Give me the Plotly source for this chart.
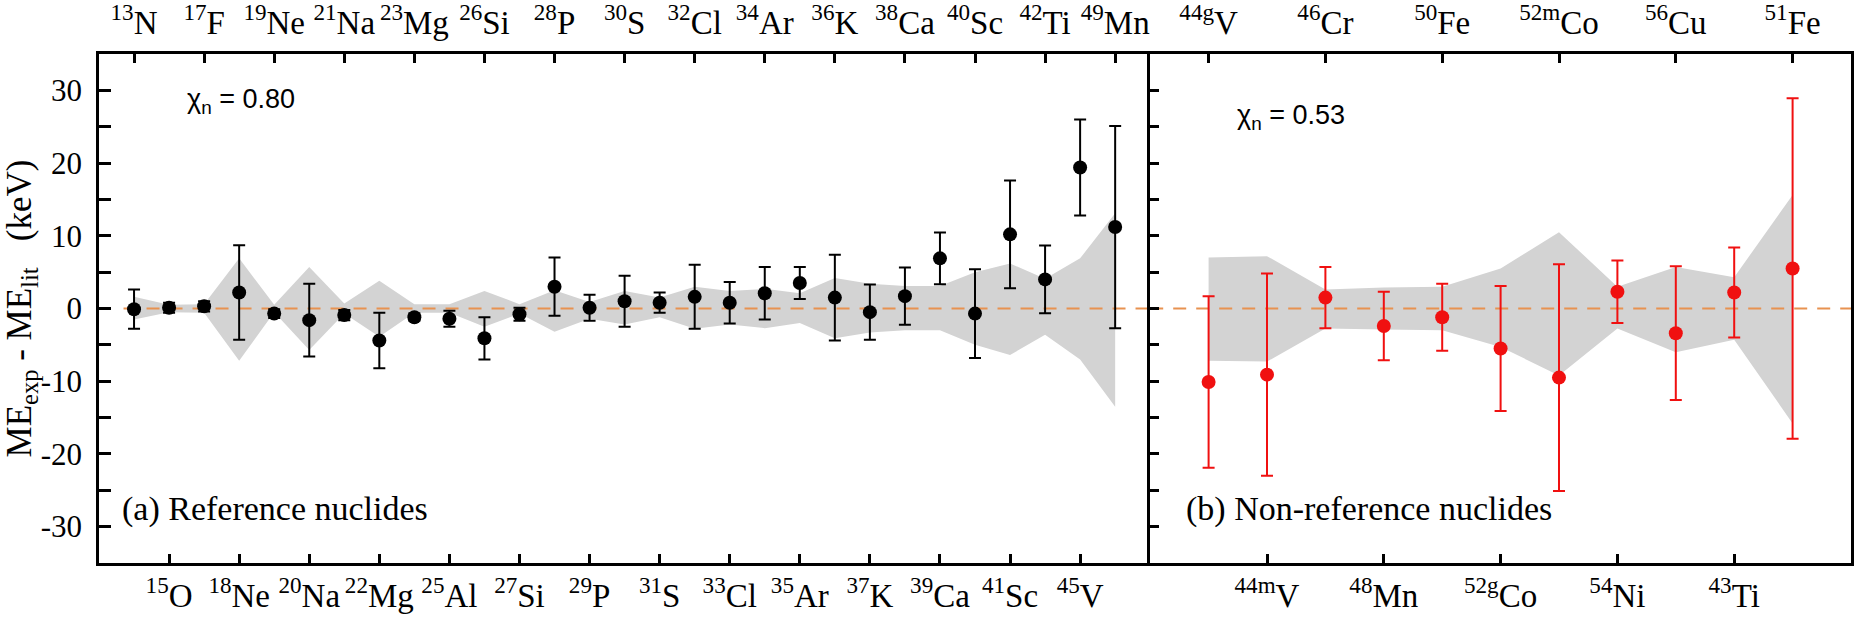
import plotly.graph_objects as go

# ---------------- data ----------------
ref_labels = ["<sup>13</sup>N", "<sup>15</sup>O", "<sup>17</sup>F", "<sup>18</sup>Ne", "<sup>19</sup>Ne",
              "<sup>20</sup>Na", "<sup>21</sup>Na", "<sup>22</sup>Mg", "<sup>23</sup>Mg", "<sup>25</sup>Al",
              "<sup>26</sup>Si", "<sup>27</sup>Si", "<sup>28</sup>P", "<sup>29</sup>P", "<sup>30</sup>S",
              "<sup>31</sup>S", "<sup>32</sup>Cl", "<sup>33</sup>Cl", "<sup>34</sup>Ar", "<sup>35</sup>Ar",
              "<sup>36</sup>K", "<sup>37</sup>K", "<sup>38</sup>Ca", "<sup>39</sup>Ca", "<sup>40</sup>Sc",
              "<sup>41</sup>Sc", "<sup>42</sup>Ti", "<sup>45</sup>V", "<sup>49</sup>Mn"]
ref_values = [-0.1, 0.1, 0.3, 2.2, -0.7, -1.6, -0.9, -4.4, -1.2, -1.4, -4.1, -0.8, 3.0, 0.1, 1.0,
              0.8, 1.6, 0.8, 2.1, 3.5, 1.5, -0.5, 1.7, 6.9, -0.7, 10.2, 4.0, 19.4, 11.2]
ref_errors = [2.7, 0.7, 0.7, 6.5, 0.6, 5.0, 0.7, 3.8, 0.5, 1.1, 2.9, 0.9, 4.0, 1.8, 3.5,
              1.4, 4.4, 2.85, 3.6, 2.2, 5.9, 3.8, 3.95, 3.55, 6.1, 7.4, 4.65, 6.6, 13.9]
ref_band_upper = [1.6, 0.5, 0.6, 6.9, 0.5, 5.7, 0.7, 3.8, 0.6, 0.6, 2.4, 0.6, 2.5, 0.9, 2.4,
                  1.5, 3.0, 2.4, 2.7, 2.1, 4.2, 3.4, 3.1, 3.1, 5.0, 6.2, 4.1, 6.9, 13.1]
ref_band_lower = [-1.5, -0.5, -0.6, -7.2, -0.5, -5.7, -0.7, -3.9, -0.6, -0.6, -2.5, -0.7, -3.2, -1.4, -2.2,
                  -1.2, -2.8, -2.2, -2.7, -2.0, -4.1, -3.3, -3.0, -3.0, -5.0, -6.4, -3.6, -7.0, -13.5]

non_labels = ["<sup>44g</sup>V", "<sup>44m</sup>V", "<sup>46</sup>Cr", "<sup>48</sup>Mn", "<sup>50</sup>Fe",
              "<sup>52g</sup>Co", "<sup>52m</sup>Co", "<sup>54</sup>Ni", "<sup>56</sup>Cu", "<sup>43</sup>Ti",
              "<sup>51</sup>Fe"]
non_values = [-10.1, -9.1, 1.5, -2.4, -1.2, -5.5, -9.5, 2.3, -3.4, 2.2, 5.5]
non_errors = [11.8, 13.9, 4.2, 4.7, 4.6, 8.6, 15.6, 4.3, 9.2, 6.2, 23.4]
non_band_upper = [7.0, 7.2, 2.6, 2.9, 3.0, 5.5, 10.5, 3.0, 5.7, 4.3, 15.6]
non_band_lower = [-7.2, -7.3, -2.75, -2.9, -3.0, -5.3, -9.2, -2.75, -6.0, -4.3, -15.8]

chi_ref = "0.80"
chi_non = "0.53"

y_tick_vals = [-30, -20, -10, 0, 10, 20, 30]
y_tick_text = ["-30", "-20", "-10", "0", "10", "20", "30"]

# ---------------- styling ----------------
SERIF = "Liberation Serif"
SANS = "Liberation Sans"
BAND = "#D3D3D3"
ZERO = "rgb(232,146,80)"
Y_RANGE = [-35, 35]

ref_x = list(range(1, len(ref_values) + 1))
non_x = list(range(1, len(non_values) + 1))
L_RANGE = [0, len(ref_values) + 1]
R_RANGE = [0, len(non_values) + 1]

fig = go.Figure()

# uncertainty bands
fig.add_trace(go.Scatter(x=ref_x + ref_x[::-1], y=ref_band_upper + ref_band_lower[::-1],
                         fill="toself", fillcolor=BAND, line=dict(width=0), mode="lines",
                         xaxis="x", yaxis="y", hoverinfo="skip"))
fig.add_trace(go.Scatter(x=non_x + non_x[::-1], y=non_band_upper + non_band_lower[::-1],
                         fill="toself", fillcolor=BAND, line=dict(width=0), mode="lines",
                         xaxis="x2", yaxis="y2", hoverinfo="skip"))

# zero lines
fig.add_trace(go.Scatter(x=[L_RANGE[0] + 0.7, L_RANGE[1]], y=[0, 0], mode="lines",
                         line=dict(color=ZERO, width=2.2, dash="13px,10px"),
                         xaxis="x", yaxis="y", hoverinfo="skip"))
fig.add_trace(go.Scatter(x=R_RANGE, y=[0, 0], mode="lines",
                         line=dict(color=ZERO, width=2.2, dash="13px,10px"),
                         xaxis="x2", yaxis="y2", hoverinfo="skip"))

# data points
fig.add_trace(go.Scatter(x=ref_x, y=ref_values, mode="markers",
                         marker=dict(color="black", size=14),
                         error_y=dict(type="data", array=ref_errors, color="black", thickness=2, width=6),
                         xaxis="x", yaxis="y"))
fig.add_trace(go.Scatter(x=non_x, y=non_values, mode="markers",
                         marker=dict(color="#F01010", size=14),
                         error_y=dict(type="data", array=non_errors, color="#F01010", thickness=2, width=6),
                         xaxis="x2", yaxis="y2"))

# invisible traces for the top axes
fig.add_trace(go.Scatter(x=ref_x, y=ref_values, mode="markers", marker=dict(opacity=0),
                         xaxis="x3", yaxis="y", hoverinfo="skip"))
fig.add_trace(go.Scatter(x=non_x, y=non_values, mode="markers", marker=dict(opacity=0),
                         xaxis="x4", yaxis="y2", hoverinfo="skip"))

tickfont = dict(family=SERIF, size=33, color="black")
common_x = dict(showline=True, linecolor="black", linewidth=2.5, showgrid=False, zeroline=False,
                ticks="inside", ticklen=9, tickwidth=2.5, tickcolor="black", tickfont=tickfont,
                tickmode="array", automargin=False)
minor_y = dict(dtick=5, ticks="inside", ticklen=12, tickwidth=2.5, tickcolor="black", showgrid=False)
minor_y2 = dict(dtick=5, ticks="inside", ticklen=9, tickwidth=2.5, tickcolor="black", showgrid=False)

layout = dict(
    width=1862, height=622,
    margin=dict(l=99, r=11, t=54, b=59),
    paper_bgcolor="white", plot_bgcolor="white",
    showlegend=False,
    xaxis=dict(domain=[0, 0.6], range=L_RANGE, anchor="y", mirror=True,
               tickvals=ref_x[1::2], ticktext=ref_labels[1::2], ticklabelstandoff=2, **common_x),
    xaxis3=dict(overlaying="x", side="top", range=L_RANGE, anchor="y",
                tickvals=ref_x[0::2], ticktext=ref_labels[0::2], ticklabelstandoff=4, **common_x),
    xaxis2=dict(domain=[0.6, 1], range=R_RANGE, anchor="y2", mirror=True,
                tickvals=non_x[1::2], ticktext=non_labels[1::2], ticklabelstandoff=2, **common_x),
    xaxis4=dict(overlaying="x2", side="top", range=R_RANGE, anchor="y2",
                tickvals=non_x[0::2], ticktext=non_labels[0::2], ticklabelstandoff=4, **common_x),
    yaxis=dict(domain=[0, 1], range=Y_RANGE, anchor="x", showline=True, mirror=False,
               linecolor="black", linewidth=2.5, showgrid=False, zeroline=False, automargin=False,
               ticks="inside", ticklen=12, tickwidth=2.5, tickcolor="black",
               tickmode="array", tickvals=y_tick_vals, ticktext=y_tick_text, minor=minor_y,
               tickfont=dict(family=SERIF, size=31, color="black"), ticklabelstandoff=8,
               title=dict(text="ME<sub>exp</sub> - ME<sub>lit</sub>&nbsp;&nbsp;&nbsp;(keV)",
                          font=dict(family=SERIF, size=35, color="black"), standoff=8)),
    yaxis2=dict(domain=[0, 1], range=Y_RANGE, anchor="x2", showline=True, mirror=True,
                linecolor="black", linewidth=2.5, showgrid=False, zeroline=False, automargin=False,
                ticks="inside", ticklen=9, tickwidth=2.5, tickcolor="black",
                tickmode="array", tickvals=y_tick_vals, minor=minor_y2, showticklabels=False),
    annotations=[
        dict(x=2.45, y=28.5, xref="x", yref="y", xanchor="left", yanchor="middle", showarrow=False,
             text="χ<sub>n</sub> = " + chi_ref, font=dict(family=SANS, size=27, color="black")),
        dict(x=1.45, y=26.4, xref="x2", yref="y2", xanchor="left", yanchor="middle", showarrow=False,
             text="χ<sub>n</sub> = " + chi_non, font=dict(family=SANS, size=27, color="black")),
        dict(x=0.6, y=-27.6, xref="x", yref="y", xanchor="left", yanchor="middle", showarrow=False,
             text="(a) Reference nuclides", font=dict(family=SERIF, size=34, color="black")),
        dict(x=0.58, y=-27.6, xref="x2", yref="y2", xanchor="left", yanchor="middle", showarrow=False,
             text="(b) Non-reference nuclides", font=dict(family=SERIF, size=34, color="black")),
    ],
)
fig.update_layout(**layout)

fig.write_html("out.html")
